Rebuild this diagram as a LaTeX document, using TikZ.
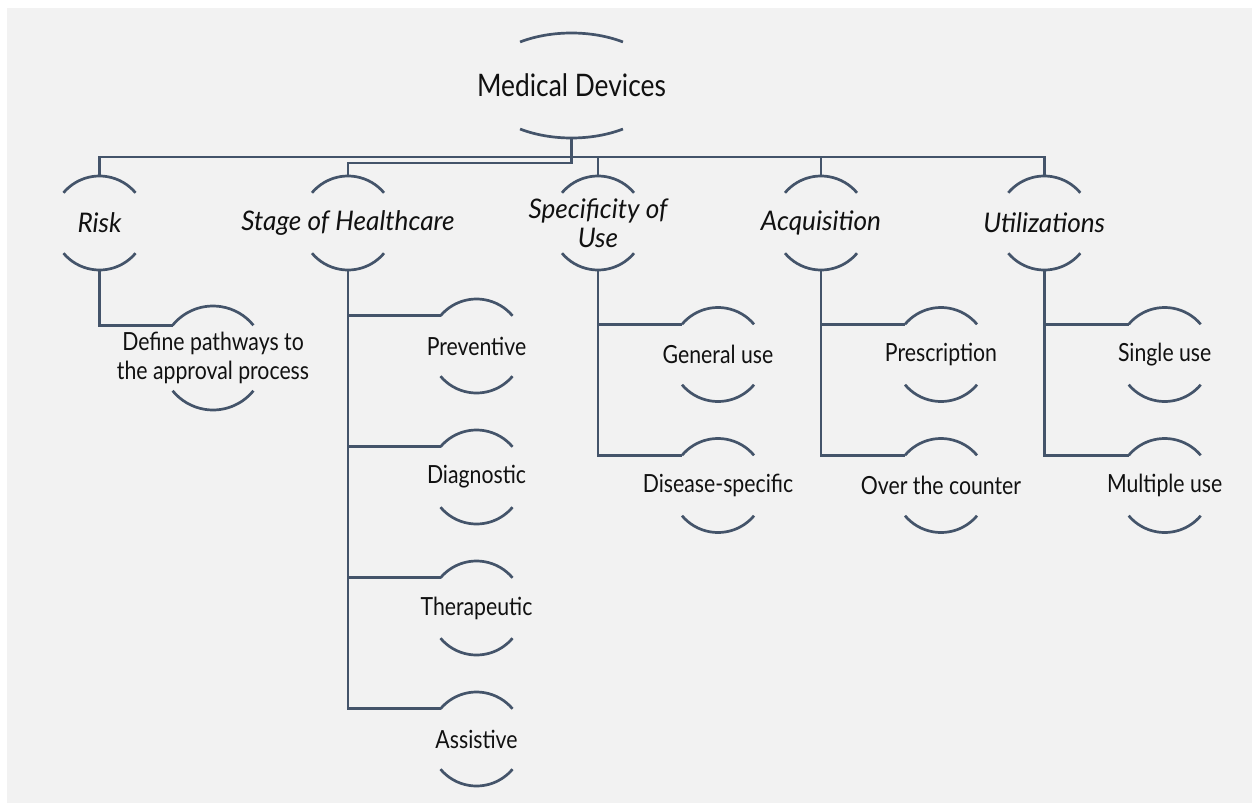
\documentclass[tikz,border=0pt]{standalone}
\usepackage{fontspec}
\setmainfont{Lato}[FakeStretch=0.85]
\newfontfamily\itf{Lato}[FakeStretch=0.97]
\usetikzlibrary{calc}
\definecolor{bg}{HTML}{F2F2F2}
\definecolor{ln}{HTML}{44546A}
\definecolor{tx}{HTML}{111111}
\tikzset{
  arcl/.style={draw=ln, line width=2.7pt},
  conn/.style={draw=ln, line width=2.7pt},
  lbl/.style={text=tx, font=\fontsize{25}{29}\selectfont, align=center, inner sep=0pt},
  ilbl/.style={lbl, font=\fontsize{27}{29}\selectfont\itf\itshape},
  mlbl/.style={lbl, font=\fontsize{31}{36}\selectfont}
}
% name, x, y, rx, ry, t, style, text
\newcommand{\hnode}[8]{%
  \node[#7] (#1) at (#2,#3) {#8};
  \coordinate (#1-t) at (#2,#3-#5);
  \coordinate (#1-b) at (#2,#3+#5);
  \coordinate (#1-l) at ([shift={(#2,#3)}] 180+#6:#4 and #5);
  \draw[arcl] (#1-l) arc[start angle=180+#6, end angle=360-#6, x radius=#4, y radius=#5];
  \draw[arcl] ([shift={(#2,#3)}] #6:#4 and #5) arc[start angle=#6, end angle=180-#6, x radius=#4, y radius=#5];
}
\begin{document}
\begin{tikzpicture}[x=1pt,y=-1pt]
\useasboundingbox (0,0) rectangle (1252,803);
\fill[bg] (7,8) rectangle (1252,803);

\hnode{md}{571.5}{85.5}{92}{52.5}{56}{mlbl}{Medical Devices}

\hnode{risk}{99.5}{223}{47}{47}{40}{ilbl}{Risk}
\hnode{stage}{348}{223}{47}{47}{40}{ilbl}{Stage of Healthcare}
\hnode{spec}{598}{223}{47}{47}{40}{ilbl}{Specificity of\\Use}
\hnode{acq}{821}{223}{47}{47}{40}{ilbl}{Acquisition}
\hnode{util}{1044.3}{223}{47}{47}{40}{ilbl}{Utilizations}

\hnode{def}{213}{358}{52}{52}{39}{lbl}{Define pathways to\\the approval process}

\hnode{prev}{476.5}{346}{47}{47}{40}{lbl}{Preventive}
\hnode{diag}{476.5}{477}{47}{47}{40}{lbl}{Diagnostic}
\hnode{ther}{476.5}{608}{47}{47}{40}{lbl}{Therapeutic}
\hnode{assi}{476.5}{739}{47}{47}{40}{lbl}{Assistive}

\hnode{gen}{718}{354.5}{47}{47}{40}{lbl}{General use}
\hnode{dis}{718}{485.5}{47}{47}{40}{lbl}{Disease-specific}

\hnode{pres}{941}{354.5}{47}{47}{40}{lbl}{Prescription}
\hnode{otc}{941}{485.5}{47}{47}{40}{lbl}{Over the counter}

\hnode{sing}{1164.7}{354.5}{47}{47}{40}{lbl}{Single use}
\hnode{mult}{1164.7}{485.5}{47}{47}{40}{lbl}{Multiple use}

\coordinate (bus) at (571.5,157);
\coordinate (bus2) at (571.5,163);

\draw[conn] (md-b) -- (md-b |- bus) -| (risk-t);
\draw[conn] (md-b |- bus) -| (util-t);
\draw[conn] (md-b |- bus) -| (spec-t);
\draw[conn] (md-b |- bus) -| (acq-t);
\draw[conn] (md-b) -- (md-b |- bus2) -| (stage-t);

\draw[conn] (risk-b) |- (def-l);
\draw[conn] (stage-b) |- (prev-l);
\draw[conn] (stage-b) |- (diag-l);
\draw[conn] (stage-b) |- (ther-l);
\draw[conn] (stage-b) |- (assi-l);
\draw[conn] (spec-b) |- (gen-l);
\draw[conn] (spec-b) |- (dis-l);
\draw[conn] (acq-b) |- (pres-l);
\draw[conn] (acq-b) |- (otc-l);
\draw[conn] (util-b) |- (sing-l);
\draw[conn] (util-b) |- (mult-l);
\end{tikzpicture}
\end{document}
